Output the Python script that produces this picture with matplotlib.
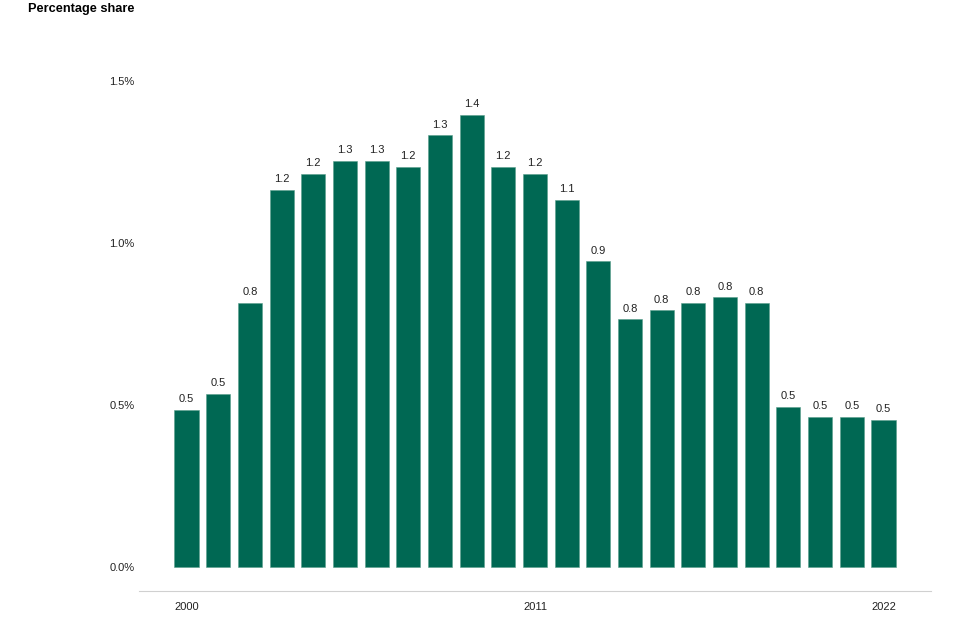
import matplotlib.pyplot as plt
import numpy as np

plt.rcParams['font.family'] = ['Liberation Sans', 'DejaVu Sans']

years = list(range(2000, 2023))
share = [0.485, 0.534, 0.815, 1.164, 1.213, 1.253, 1.253, 1.235, 1.333, 1.395,
         1.235, 1.213, 1.133, 0.944, 0.765, 0.793, 0.815, 0.833, 0.815, 0.494,
         0.463, 0.463, 0.454]
tick_years = [2000, 2011, 2022]

fig = plt.figure(figsize=(9.6, 6.4), dpi=100)
ax = fig.add_axes([0.1448, 0.0766, 0.825, 0.8475])

x = np.arange(len(years))
bars = ax.bar(x, share, width=0.76, color='#006853', edgecolor='#5a9e8c', linewidth=0.4)

for xi, v in zip(x, share):
    ax.annotate(f'{v:.1f}', (xi, v), xytext=(0, 4), textcoords='offset points',
                ha='center', va='bottom', fontsize=8, color='#222222')

ax.set_xlim(-1.5, 23.5)
ax.set_ylim(-0.074, 1.6)
ax.set_yticks([0, 0.5, 1.0, 1.5])
ax.set_yticklabels(['0.0%', '0.5%', '1.0%', '1.5%'])
ax.set_xticks([years.index(y) for y in tick_years])
ax.set_xticklabels([str(y) for y in tick_years])
ax.tick_params(axis='both', length=0, labelsize=8, colors='#222222')
ax.tick_params(axis='y', pad=3)
ax.tick_params(axis='x', pad=8)

for s in ['top', 'right', 'left']:
    ax.spines[s].set_visible(False)
ax.spines['bottom'].set_color('#d0d0d0')

fig.text(28 / 960, 1 - 9 / 640, 'Percentage share', fontsize=9.2, fontweight='bold',
         ha='left', va='center')

fig.savefig('out.png', dpi=100)
